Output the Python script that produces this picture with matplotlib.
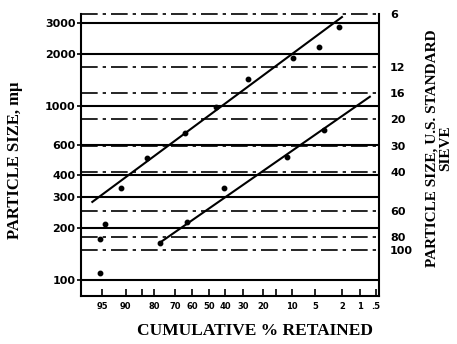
#!/usr/bin/env python
# -*- coding: utf-8 -*-

from statistics import NormalDist

import numpy as np
import matplotlib
matplotlib.use('Agg')
import matplotlib.pyplot as plt
from matplotlib.ticker import NullLocator, FixedLocator, FixedFormatter

########################################################################################################################

# % cumulé retenu / taille de particule (m\u03bc)
pct_haut = [94.5, 91.3, 83.1, 64.4, 45.6, 27.2, 9.6, 4.5, 2.2]
taille_haut = [210, 339, 500, 702, 993, 1422, 1879, 2173, 2859]

pct_bas = [95.4, 95.4, 77.5, 63.2, 40.6, 11.5, 3.8]
taille_bas = [109, 172, 164, 215, 336, 506, 728]

# droites ajustées (extrémités)
droite_haut_pct = [96.4, 2.0]
droite_haut_taille = [281, 3245]
droite_bas_pct = [77.5, 0.65]
droite_bas_taille = [164, 1130]

# axes
ticks_pct = [95, 90, 85, 80, 70, 60, 50, 40, 30, 20, 15, 10, 5, 2, 1, 0.5]
labels_pct = ['95', '90', '', '80', '70', '60', '50', '40', '30', '20', '', '10', '5', '2', '1', '.5']
ticks_taille = [100, 200, 300, 400, 600, 1000, 2000, 3000]
tamis_um = [3360, 1680, 1190, 840, 590, 420, 250, 177, 149]
tamis_no = ['6', '12', '16', '20', '30', '40', '60', '80', '100']

########################################################################################################################
ND = NormalDist()


def _fwd(p):
    p = np.clip(np.asarray(p, dtype=float), 1e-6, 100 - 1e-6)
    return np.vectorize(lambda v: ND.inv_cdf(v / 100.0), otypes=[float])(p)


def _inv(z):
    z = np.asarray(z, dtype=float)
    return np.vectorize(lambda v: 100.0 * ND.cdf(v), otypes=[float])(z)


def main():
    fig = plt.figure(figsize=(4.57, 3.44), dpi=100)
    ax = fig.add_axes([81 / 457, 48 / 344, 298 / 457, 281.6 / 344])

    ax.set_xscale('function', functions=(_fwd, _inv))
    ax.set_yscale('log')
    ax.set_xlim(97.58, 0.433)
    ax.set_ylim(80.9, 3360)

    # lignes horizontales
    for t in ticks_taille:
        ax.axhline(t, color='black', lw=1.5, zorder=1)
    for t in tamis_um:
        ax.axhline(t, color='black', lw=1.2, dashes=(10, 3, 2, 3), zorder=1, clip_on=False)

    # points et droites
    ax.plot(pct_haut, taille_haut, 'o', color='black', ms=3.2, zorder=3)
    ax.plot(pct_bas, taille_bas, 'o', color='black', ms=3.2, zorder=3)
    ax.plot(droite_haut_pct, droite_haut_taille, color='black', lw=1.5, zorder=2)
    ax.plot(droite_bas_pct, droite_bas_taille, color='black', lw=1.5, zorder=2)

    # axe x
    ax.xaxis.set_major_locator(FixedLocator(ticks_pct))
    ax.xaxis.set_major_formatter(FixedFormatter(labels_pct))
    ax.xaxis.set_minor_locator(NullLocator())
    ax.tick_params(axis='x', direction='in', length=5, width=1.2, pad=4)
    for lab in ax.get_xticklabels():
        lab.set_fontsize(6)
        lab.set_fontweight('bold')

    # axe y gauche
    ax.yaxis.set_major_locator(FixedLocator(ticks_taille))
    ax.yaxis.set_major_formatter(FixedFormatter([str(t) for t in ticks_taille]))
    ax.yaxis.set_minor_locator(NullLocator())
    ax.tick_params(axis='y', direction='out', length=3, width=1.2, pad=1)
    for lab in ax.get_yticklabels():
        lab.set_fontsize(8)
        lab.set_fontweight('bold')

    for cote in ['left', 'right', 'bottom']:
        ax.spines[cote].set_linewidth(1.5)
    ax.spines['top'].set_visible(False)

    # axe y droite (tamis)
    ax2 = ax.twinx()
    ax2.set_yscale('log')
    ax2.set_ylim(ax.get_ylim())
    ax2.yaxis.set_major_locator(FixedLocator(tamis_um))
    ax2.yaxis.set_major_formatter(FixedFormatter(tamis_no))
    ax2.yaxis.set_minor_locator(NullLocator())
    ax2.tick_params(axis='y', length=0, pad=8)
    for lab in ax2.get_yticklabels():
        lab.set_fontsize(8)
        lab.set_fontweight('bold')
    for cote in ['left', 'right', 'bottom', 'top']:
        ax2.spines[cote].set_visible(False)

    police = dict(family='Liberation Serif', fontweight='bold', color='black')
    fig.text(15 / 457, 1 - 160 / 344, 'PARTICLE SIZE, m\u03bc', rotation=90,
             ha='center', va='center', fontsize=12, **police)
    fig.text(439 / 457, 1 - 148 / 344, 'PARTICLE SIZE, U.S. STANDARD\nSIEVE', rotation=90,
             ha='center', va='center', ma='center', fontsize=11, linespacing=1.0, **police)
    fig.text(255 / 457, 1 - 331 / 344, 'CUMULATIVE % RETAINED',
             ha='center', va='center', fontsize=12.5, **police)

    fig.savefig('out.png', dpi=100)


if __name__ == '__main__':
    main()
